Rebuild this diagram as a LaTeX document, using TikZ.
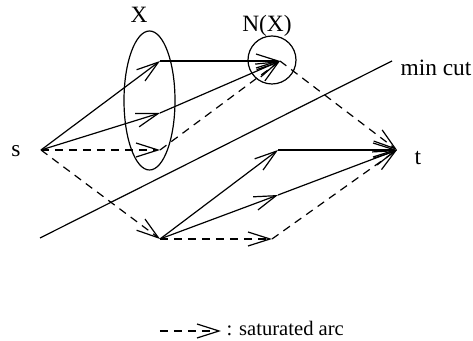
\documentclass[tikz,border=0pt]{standalone}
\usepackage{fontspec}
\setmainfont{Liberation Serif}
\usetikzlibrary{arrows.meta}

\begin{document}
\begin{tikzpicture}[x=0.5pt, y=-0.5pt, line width=0.6pt,
  barb/.style={-{Straight Barb[length=11pt, width=7pt]}},
  sat/.style={barb, dash pattern=on 4pt off 3pt},
  lbl/.style={anchor=base, inner sep=0pt, font=\fontsize{11.7}{14}\selectfont}]
  \useasboundingbox (0,0) rectangle (473,341);

  % ---- the vertices, at pixel positions ------------------------------------
  \coordinate (s)  at (41,150);
  \coordinate (x1) at (160,61);
  \coordinate (x2) at (160,113);
  \coordinate (x3) at (160,150);
  \coordinate (n)  at (280,61);
  \coordinate (b)  at (160,239);
  \coordinate (c1) at (278,150);
  \coordinate (c2) at (278,195);
  \coordinate (c3) at (272,239);
  \coordinate (t)  at (397,150);

  % ---- the set X and its neighbourhood N(X) --------------------------------
  \draw (149.5,100.5) ellipse (25.5 and 69.5);
  \draw (272,60) circle [radius=24];
  \node[lbl] (lblX)  at (139,23) {X};
  \node[lbl] (lblNX) at (267,32) {N(X)};

  % ---- the cut -------------------------------------------------------------
  \coordinate (cutA) at (40,238);
  \coordinate (cutB) at (392,61);
  \draw (cutA) -- (cutB);
  \node[lbl, anchor=base west] (lblcut) at (400,76) {min cut};

  % ---- arcs: #1 tail, #2 head, #3 style ------------------------------------
  \foreach \a/\h/\st in {s/x1/barb, s/x2/barb, s/x3/sat,
      x1/n/barb, x2/n/barb, x3/n/sat, n/t/sat, s/b/sat,
      b/c1/barb, c1/t/barb, b/c2/barb, c2/t/barb, b/c3/sat, c3/t/sat}{
    \draw[\st] (\a) -- (\h);
  }

  \node[lbl] (lbls) at (16,157) {s};
  \node[lbl] (lblt) at (418,165) {t};

  % ---- legend --------------------------------------------------------------
  \coordinate (legA) at (160,331);
  \coordinate (legB) at (221,331);
  \draw[sat] (legA) -- (legB);
  \node[anchor=base west, inner sep=0pt, font=\fontsize{10.3}{12}\selectfont]
    (legtxt) at (226,336) {: saturated arc};
\end{tikzpicture}
\end{document}
